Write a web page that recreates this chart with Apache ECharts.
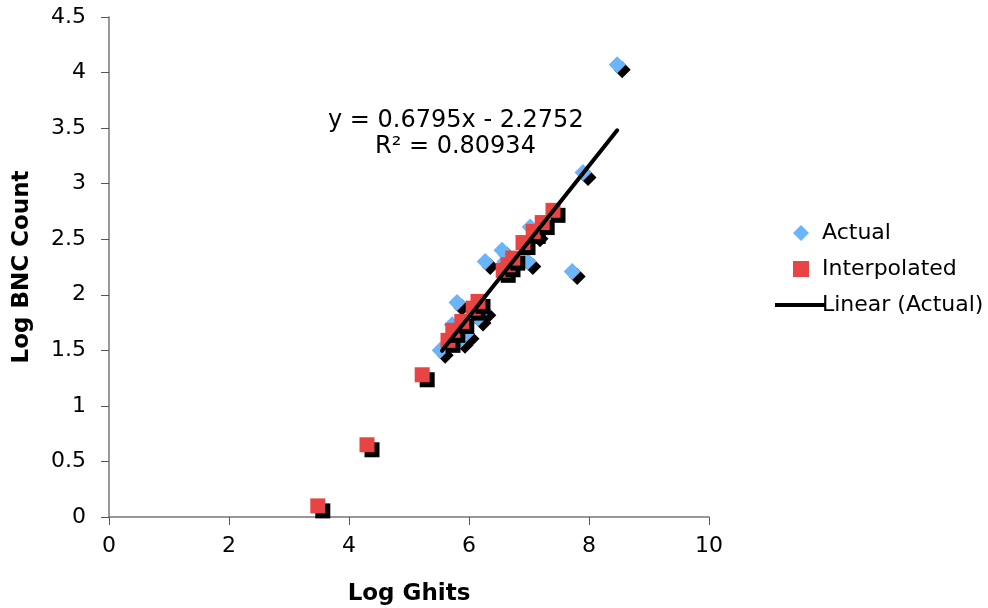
<!DOCTYPE html>
<html>
<head>
<meta charset="utf-8">
<script src="https://cdn.jsdelivr.net/npm/echarts@6/dist/echarts.min.js"></script>
<style>html,body{margin:0;padding:0;background:#fff}#c{width:988px;height:608px}</style>
</head>
<body>
<div id="c"></div>
<script>
var actual = [
  [5.52,1.50],[5.72,1.73],[5.85,1.59],[5.80,1.93],[5.95,1.65],[6.15,1.79],[6.23,1.86],
  [6.27,2.30],[6.55,2.40],[6.60,2.30],[6.98,2.30],[7.02,2.61],[7.10,2.55],
  [7.72,2.21],[7.90,3.10],[8.47,4.07]
];
var interpolated = [
  [3.48,0.10],[4.30,0.65],[5.22,1.28],[5.65,1.59],[5.73,1.68],[5.88,1.76],[6.07,1.88],
  [6.15,1.94],[6.57,2.22],[6.65,2.27],[6.73,2.33],[6.90,2.47],[7.07,2.57],[7.22,2.65],[7.40,2.76]
];
var trendLine = [[5.55,1.496],[8.47,3.480]];
var equationText = 'y = 0.6795x - 2.2752';
var r2Text = 'R² = 0.80934';
var xTicks = {min:0, max:10, interval:2};
var yTicks = {min:0, max:4.5, interval:0.5};

var FONT = 'DejaVu Sans, Verdana, sans-serif';
var noShadow = {shadowBlur:0, shadowOffsetX:0, shadowOffsetY:0, shadowColor:'rgba(0,0,0,0)'};
var chart = echarts.init(document.getElementById('c'), null, {renderer:'canvas'});
chart.setOption({
  animation:false,
  backgroundColor:'#fff',
  textStyle:{fontFamily:FONT},
  grid:{left:109, right:279, top:17, bottom:91, containLabel:false, outerBoundsMode:'none'},
  xAxis:{
    type:'value', min:xTicks.min, max:xTicks.max, interval:xTicks.interval,
    name:'Log Ghits', nameLocation:'middle', nameGap:66,
    nameTextStyle:{fontFamily:FONT, fontSize:23, fontWeight:'bold', color:'#000'},
    axisLine:{show:true, onZero:false, lineStyle:{color:'#777', width:1.5}},
    axisTick:{show:true, length:8, lineStyle:{color:'#555'}},
    axisLabel:{fontFamily:FONT, fontSize:22, color:'#000', margin:18},
    splitLine:{show:false}
  },
  yAxis:{
    type:'value', min:yTicks.min, max:yTicks.max, interval:yTicks.interval,
    name:'Log BNC Count', nameLocation:'middle', nameGap:75, nameRotate:90,
    nameTextStyle:{fontFamily:FONT, fontSize:23, fontWeight:'bold', color:'#000'},
    axisLine:{show:true, onZero:false, lineStyle:{color:'#777', width:1.5}},
    axisTick:{show:true, length:8, lineStyle:{color:'#555'}},
    axisLabel:{fontFamily:FONT, fontSize:22, color:'#000', margin:23},
    splitLine:{show:false}
  },
  legend:[
    {
      orient:'vertical', left:788, top:217, itemWidth:16, itemHeight:16, itemGap:14,
      textStyle:{fontFamily:FONT, fontSize:22, color:'#000', lineHeight:22, padding:[0,0,0,8]},
      itemStyle:noShadow,
      data:[
        {name:'Actual', icon:'diamond', itemStyle:noShadow},
        {name:'Interpolated', icon:'rect', itemStyle:noShadow}
      ]
    },
    {
      orient:'vertical', left:770, top:289, itemWidth:50, itemHeight:4,
      textStyle:{fontFamily:FONT, fontSize:22, color:'#000', lineHeight:22, padding:[0,0,0,-8]},
      data:[{name:'Linear (Actual)', icon:'rect', itemStyle:{color:'#000'}}]
    }
  ],
  graphic:[
    {type:'text', left:328, top:109, style:{text:equationText, font:'24px ' + FONT, fill:'#000'}},
    {type:'text', left:375, top:135, style:{text:r2Text, font:'24px ' + FONT, fill:'#000'}}
  ],
  series:[
    {name:'Actual', type:'scatter', data:actual, symbol:'diamond', symbolSize:17, z:2,
     itemStyle:{color:'#6AB4F8', opacity:1, shadowColor:'#000', shadowBlur:0, shadowOffsetX:5, shadowOffsetY:5}},
    {name:'Interpolated', type:'scatter', data:interpolated, symbol:'rect', symbolSize:15, z:3,
     itemStyle:{color:'#E84444', opacity:1, shadowColor:'#000', shadowBlur:0, shadowOffsetX:5, shadowOffsetY:5}},
    {name:'Linear (Actual)', type:'line', data:trendLine, symbol:'none', z:4,
     lineStyle:{color:'#000', width:4, cap:'round'}, itemStyle:{color:'#000'}}
  ]
});
</script>
</body>
</html>
